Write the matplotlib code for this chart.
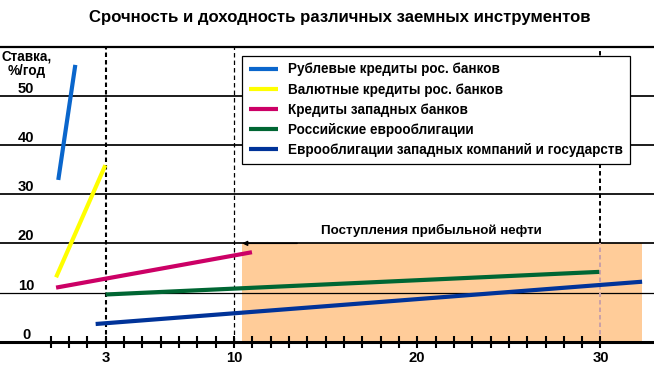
import matplotlib
matplotlib.use('Agg')
import matplotlib.pyplot as plt
from matplotlib.lines import Line2D
from matplotlib.patches import Rectangle

# ---- data ----
title = "Срочность и доходность различных заемных инструментов"
ylabel = "Ставка,\n%/год"
oil_label = "Поступления прибыльной нефти"
series_names = ["Рублевые кредиты рос. банков",
                "Валютные кредиты рос. банков",
                "Кредиты западных банков",
                "Российские еврооблигации",
                "Еврооблигации западных компаний и государств"]
series_colors = ['#0A66CC', '#FFFF00', '#CC0066', '#006633', '#003399']
rub_x = [0.41, 1.34];   rub_y = [32.9, 56.3]
fx_x = [0.29, 2.98];    fx_y = [13.1, 35.9]
west_x = [0.29, 10.98]; west_y = [11.0, 18.2]
rueb_x = [3.0, 29.93];  rueb_y = [9.6, 14.2]
weeb_x = [2.45, 32.27]; weeb_y = [3.6, 12.2]
series_x = [rub_x, fx_x, west_x, rueb_x, weeb_x]
series_y = [rub_y, fx_y, west_y, rueb_y, weeb_y]
oil_x = [10.45, 32.25]
oil_top = 20
xtick_vals = [3, 10, 20, 30]
xtick_labels = ["3", "10", "20", "30"]
ygrid_vals = [0, 10, 20, 30, 40, 50]
ytick_labels = ["0", "10", "20", "30", "40", "50"]
vlines_x = [3, 10, 30]

FONT = 'Liberation Sans'
W, H = 654, 367
plt.rcParams['lines.scale_dashes'] = False
fig = plt.figure(figsize=(W / 100, H / 100), dpi=100)
ax = fig.add_axes([0, 25.3 / H, 1, 295 / H])
ax.set_xlim(-2.77, 32.92)
ax.set_ylim(0, 60)

fig.canvas.draw()
r = fig.canvas.get_renderer()


def fit(s, target):
    t = fig.text(0, 0, s, fontsize=20, family=FONT, weight='bold')
    w = t.get_window_extent(renderer=r).width
    t.remove()
    return 20 * target / w


# oil area
ax.add_patch(Rectangle((oil_x[0], 0), oil_x[1] - oil_x[0], oil_top,
                       facecolor='#FFCC99', edgecolor='none', zorder=0.5))

# gridlines
for v in ygrid_vals[1:]:
    ax.axhline(v, color='black', lw=0.9 if v == 10 else 1.25, zorder=1)

# dashed verticals
vl_w = {3: 1.5, 10: 0.9, 30: 1.4}
for xv in vlines_x:
    if xv > oil_x[0]:
        ax.plot([xv, xv], [oil_top, 60], color='black', lw=vl_w[xv],
                dashes=(3.2, 2.2), zorder=1.2)
        ax.plot([xv, xv], [0, oil_top], color='#C9A0A8', lw=vl_w[xv],
                dashes=(3.2, 2.2), zorder=1.2)
    else:
        ax.plot([xv, xv], [0, 60], color='black', lw=vl_w[xv],
                dashes=(3.2, 2.2), zorder=1.2)

# series
for xs, ys, c in zip(series_x, series_y, series_colors):
    ax.plot(xs, ys, color=c, lw=3.0, solid_capstyle='butt', zorder=3)

# arrow for oil label
ax.annotate('', xy=(oil_x[0], oil_top), xytext=(oil_x[0] + 3, oil_top),
            arrowprops=dict(arrowstyle='-|>', color='black', lw=1.0,
                            mutation_scale=7, shrinkA=0, shrinkB=0), zorder=2)

# spines / ticks
for s in ['left', 'right']:
    ax.spines[s].set_visible(False)
ax.spines['top'].set_linewidth(1.6)
ax.spines['bottom'].set_linewidth(2.2)
ax.set_yticks([])
ax.set_xticks(xtick_vals)
ax.set_xticks([v for v in range(0, 31) if v not in xtick_vals], minor=True)
num_size = fit("50", 16.5)
ax.set_xticklabels(xtick_labels, fontsize=num_size, family=FONT, weight='bold')
ax.tick_params(axis='x', which='both', direction='inout', length=8, width=1.5,
               pad=3.0)

# y labels
for v, lab in zip(ygrid_vals, ytick_labels):
    ax.text(-1.35, v, lab, ha='center', va='bottom', fontsize=num_size,
            family=FONT, weight='bold', zorder=4)

# y axis title
ax.text(-1.29, 59.4, ylabel, ha='center', va='top', fontsize=fit("Ставка,", 50),
        family=FONT, weight='bold', linespacing=1.05, zorder=4)

# title
fig.text(340 / W, 1 - 17.5 / H, title, ha='center', va='center',
         fontsize=fit(title, 504), family=FONT, weight='bold')

# oil label
fig.text(431 / W, 1 - 230.5 / H, oil_label, ha='center', va='center',
         fontsize=fit(oil_label, 222), family=FONT, weight='bold')

# legend
leg_size = fit(series_names[-1], 334)
handles = [Line2D([], [], color=c, lw=3.0, solid_capstyle='butt') for c in series_colors]
leg = ax.legend(handles, series_names, loc='upper left',
                bbox_to_anchor=(242 / W, 1 - 55.7 / H), bbox_transform=fig.transFigure,
                borderaxespad=0, frameon=True, fancybox=False, framealpha=1,
                edgecolor='black', prop={'family': FONT, 'weight': 'bold',
                                         'size': leg_size},
                handlelength=2.15, handletextpad=0.75, labelspacing=0.45,
                borderpad=0.5)
leg.get_frame().set_linewidth(0.9)
leg.set_zorder(5)

fig.savefig('out.png', dpi=100)
